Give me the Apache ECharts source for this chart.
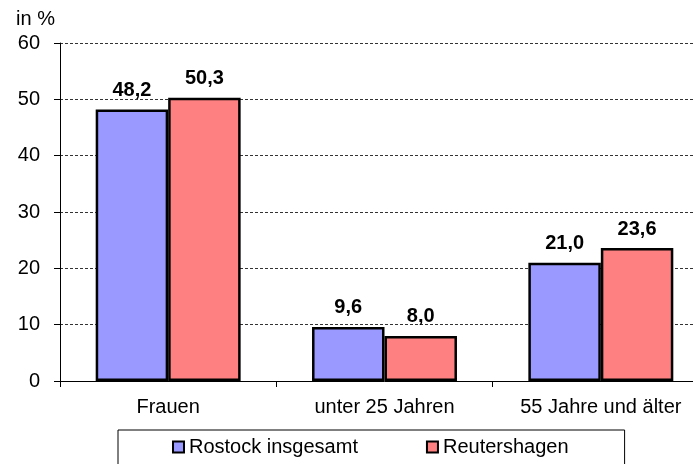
<!DOCTYPE html>
<html>
<head>
<meta charset="utf-8">
<script src="https://cdn.jsdelivr.net/npm/echarts@6/dist/echarts.min.js"></script>
<style>
  html, body { margin: 0; padding: 0; background: #fff; overflow: hidden; }
  #chart { width: 710px; height: 464px; }
</style>
</head>
<body>
<div id="chart"></div>
<script>
var categories = ['Frauen', 'unter 25 Jahren', '55 Jahre und älter'];
var rostock = [48.2, 9.6, 21.0];
var reutershagen = [50.3, 8.0, 23.6];
var seriesNames = ['Rostock insgesamt', 'Reutershagen'];

var font = 'Liberation Sans, Arial, sans-serif';

function barLabel() {
  return {
    show: true,
    position: 'top',
    distance: 9,
    color: '#000',
    fontFamily: font,
    fontSize: 20,
    fontWeight: 'bold',
    formatter: function (p) { return p.value.toFixed(1).replace('.', ','); }
  };
}

var option = {
  animation: false,
  backgroundColor: '#fff',
  // plot runs a bit past the right edge of the window, as in the original
  grid: { left: 60, right: 1, top: 43, bottom: 83 },
  legend: {
    data: seriesNames,
    left: 118,
    top: 430,
    padding: [7, 56, 20, 54],
    borderColor: '#000',
    borderWidth: 1,
    itemWidth: 11,
    itemHeight: 11,
    itemGap: 68,
    icon: 'rect',
    textStyle: { fontFamily: font, fontSize: 20, color: '#000', padding: [0, 0, 0, 0] }
  },
  xAxis: {
    type: 'category',
    data: categories,
    axisLine: { lineStyle: { color: '#000', width: 1 } },
    axisTick: { show: true, length: 6, lineStyle: { color: '#000' } },
    axisLabel: { fontFamily: font, fontSize: 20, color: '#000', margin: 16 }
  },
  yAxis: {
    type: 'value',
    min: 0,
    max: 60,
    interval: 10,
    name: 'in %',
    nameGap: 14,
    nameLocation: 'end',
    nameTextStyle: { fontFamily: font, fontSize: 20, color: '#000', align: 'right', padding: [0, 5, 0, 0] },
    axisLine: { show: true, lineStyle: { color: '#000', width: 1 } },
    axisTick: { show: true, length: 6, lineStyle: { color: '#000' } },
    axisLabel: { fontFamily: font, fontSize: 20, color: '#000', margin: 20 },
    splitLine: { show: true, lineStyle: { color: '#333', type: [3, 2], width: 1 } }
  },
  series: [
    {
      name: seriesNames[0],
      type: 'bar',
      data: rostock,
      barGap: '0%',
      barCategoryGap: '33%',
      itemStyle: { color: '#9999FF', borderColor: '#000', borderWidth: 2.5 },
      label: barLabel()
    },
    {
      name: seriesNames[1],
      type: 'bar',
      data: reutershagen,
      itemStyle: { color: '#FF8080', borderColor: '#000', borderWidth: 2.5 },
      label: barLabel()
    }
  ]
};

var myChart = echarts.init(document.getElementById('chart'));
myChart.setOption(option, true);
</script>
</body>
</html>
